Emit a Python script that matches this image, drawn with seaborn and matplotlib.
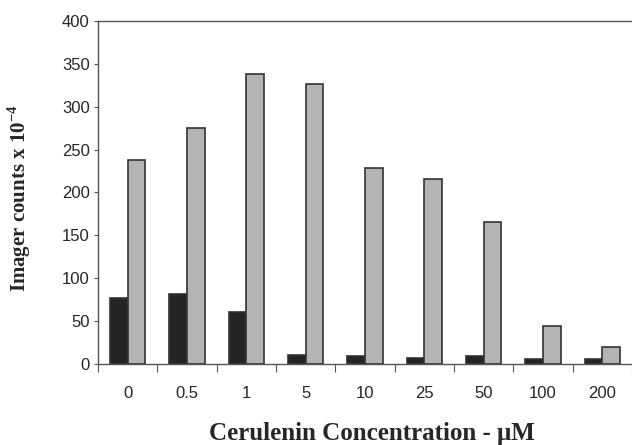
import pandas as pd
import matplotlib
matplotlib.use("Agg")
import matplotlib.pyplot as plt
from matplotlib.ticker import FixedLocator
import seaborn as sns

concentrations = ["0", "0.5", "1", "5", "10", "25", "50", "100", "200"]
dark_counts = [77, 82, 61, 11, 9, 7, 9, 6, 6]
light_counts = [238, 275, 338, 327, 228, 216, 165, 44, 20]
series_names = ["dark", "light"]


def main():
    df = pd.DataFrame({
        "conc": concentrations * 2,
        "counts": dark_counts + light_counts,
        "series": [series_names[0]] * len(concentrations) + [series_names[1]] * len(concentrations),
    })

    sns.set_style("white")
    plt.rcParams["font.family"] = ["Liberation Sans", "DejaVu Sans"]
    plt.rcParams["mathtext.fontset"] = "custom"
    plt.rcParams["mathtext.rm"] = "Liberation Serif:bold"
    plt.rcParams["mathtext.bf"] = "Liberation Serif:bold"

    fig = plt.figure(figsize=(6.32, 4.45), dpi=100)
    ax = fig.add_axes([0.155, 0.182, 0.845, 0.771])

    sns.barplot(data=df, x="conc", y="counts", hue="series", order=concentrations,
                palette=["#242424", "#b4b4b4"], edgecolor="#333333", linewidth=1.2,
                width=0.6, gap=0, legend=False, ax=ax)

    ax.set_ylim(0, 400)
    ax.set_xlim(-0.5, len(concentrations) - 0.5)
    ax.set_yticks(range(0, 401, 50))
    ax.tick_params(axis="y", labelsize=12, length=3, width=0.8, color="#555555",
                   left=True, pad=3)
    ax.tick_params(axis="x", which="major", labelsize=12, length=0, pad=16)
    ax.xaxis.set_minor_locator(FixedLocator([i - 0.5 for i in range(len(concentrations) + 1)]))
    ax.tick_params(axis="x", which="minor", length=6, width=0.8, color="#555555", bottom=True)

    for side in ["left", "bottom", "top"]:
        ax.spines[side].set_visible(True)
        ax.spines[side].set_color("#555555")
        ax.spines[side].set_linewidth(1.0)
    ax.spines["right"].set_visible(False)

    ax.set_xlabel("Cerulenin Concentration - μM", fontsize=18, fontweight="bold",
                  family=["Liberation Serif", "DejaVu Serif"])
    ax.set_ylabel(r"Imager counts x 10$^{-4}$", fontsize=15, fontweight="bold",
                  family=["Liberation Serif", "DejaVu Serif"])
    ax.xaxis.set_label_coords(0.513, -0.168)
    ax.yaxis.set_label_coords(-0.122, 0.484)

    fig.savefig("out.png", dpi=100)


if __name__ == "__main__":
    main()
